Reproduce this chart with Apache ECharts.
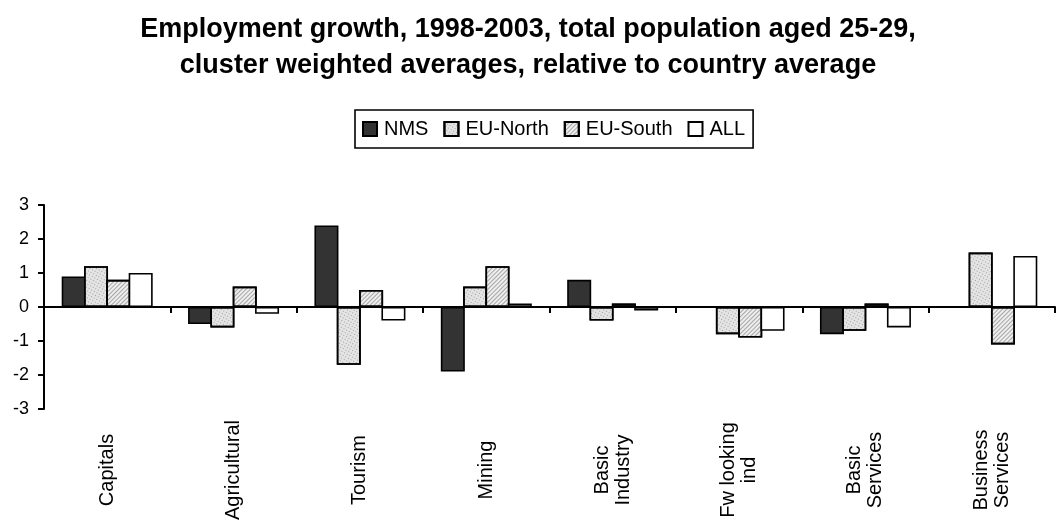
<!DOCTYPE html>
<html><head><meta charset="utf-8">
<script src="https://cdn.jsdelivr.net/npm/echarts@6/dist/echarts.min.js"></script>
<style>html,body{margin:0;padding:0;background:#fff}#c{width:1056px;height:525px}</style>
</head><body><div id="c"></div>
<script>
const categories = ['Capitals','Agricultural','Tourism','Mining','Basic\nIndustry','Fw looking\nind','Basic\nServices','Business\nServices'];
const nms      = [0.9, -0.5, 2.4, -1.9, 0.8, null, -0.8, null];
const euNorth  = [1.2, -0.6, -1.7, 0.6, -0.4, -0.8, -0.7, 1.6];
const euSouth  = [0.8, 0.6, 0.5, 1.2, 0.1, -0.9, 0.1, -1.1];
const all      = [1.0, -0.2, -0.4, 0.1, -0.1, -0.7, -0.6, 1.5];
const yTicks   = [-3, 3, 1];

const font = 'Liberation Sans, Arial, sans-serif';
const border = {borderColor:'#000', borderWidth:1.6};
function mk(name, data, style){
  return {name, type:'bar', data, xAxisIndex:0, barGap:'-7%', barCategoryGap:'28%',
    itemStyle:Object.assign({}, border, style), animation:false};
}
const chart = echarts.init(document.getElementById('c'));
chart.setOption({
  animation:false,
  title:{text:'Employment growth, 1998-2003, total population aged 25-29,\ncluster weighted averages, relative to country average',
    left:'center', top:7, textStyle:{fontFamily:font, fontWeight:'bold', fontSize:27, lineHeight:36, color:'#000'}},
  legend:{top:110, left:355, itemWidth:14, itemHeight:14, itemGap:15, padding:[9,8,9,7],
    borderColor:'#000', borderWidth:1.6, icon:'rect',
    textStyle:{fontFamily:font, fontSize:20, color:'#000', padding:[0,0,0,2]},
    data:['NMS','EU-North','EU-South','ALL']},
  grid:{left:44, right:1, top:205, bottom:116},
  xAxis:[
    {type:'category', data:categories, axisLine:{onZero:true, lineStyle:{color:'#000', width:2}},
     axisTick:{show:true, length:6, lineStyle:{color:'#000', width:2}}, axisLabel:{show:false}},
    {type:'category', data:categories, position:'bottom', axisLine:{show:false}, axisTick:{show:false},
     axisLabel:{rotate:90, align:'center', verticalAlign:'middle', margin:61, interval:0,
       fontFamily:font, fontSize:20, lineHeight:21, color:'#000'}}
  ],
  yAxis:{type:'value', min:yTicks[0], max:yTicks[1], interval:yTicks[2], splitLine:{show:false},
    axisLine:{show:true, lineStyle:{color:'#000', width:2}},
    axisTick:{show:true, length:6, lineStyle:{color:'#000', width:2}},
    axisLabel:{fontFamily:font, fontSize:18, color:'#000', margin:15}},
  series:[
    mk('NMS', nms, {color:'#333333'}),
    mk('EU-North', euNorth, {color:'#e4e4e4', decal:{symbol:'rect', symbolSize:1, dashArrayX:[1,2], dashArrayY:[1,2], rotation:0.5, color:'rgba(0,0,0,0.3)'}}),
    mk('EU-South', euSouth, {color:'#eeeeee', decal:{symbol:'rect', symbolSize:1, dashArrayX:[1,0], dashArrayY:[1,1.6], rotation:-Math.PI/4, color:'rgba(0,0,0,0.3)'}}),
    mk('ALL', all, {color:'#ffffff'})
  ]
});
</script></body></html>
